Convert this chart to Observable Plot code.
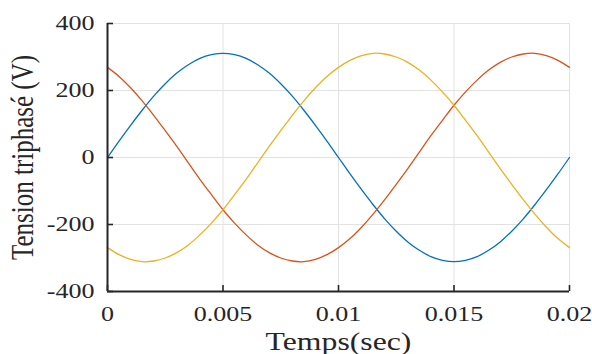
<!DOCTYPE html>
<html>
<head>
<meta charset="utf-8">
<script src="https://cdn.jsdelivr.net/npm/d3@7"></script>
<script src="https://cdn.jsdelivr.net/npm/@observablehq/plot@0.6"></script>
<style>
  html, body { margin: 0; padding: 0; background: #fff; }
</style>
</head>
<body>
<div id="chart"></div>
<script>
// Time samples (s)
const time = [0, 0.0005, 0.001, 0.0015, 0.002, 0.0025, 0.003, 0.0035, 0.004, 0.0045,
  0.005, 0.0055, 0.006, 0.0065, 0.007, 0.0075, 0.008, 0.0085, 0.009, 0.0095,
  0.01, 0.0105, 0.011, 0.0115, 0.012, 0.0125, 0.013, 0.0135, 0.014, 0.0145,
  0.015, 0.0155, 0.016, 0.0165, 0.017, 0.0175, 0.018, 0.0185, 0.019, 0.0195, 0.02];
// Phase voltages (V)
const phaseA = [0, 49, 96, 141, 183, 220, 252, 277, 296, 307, 311, 307, 296, 277, 252, 220, 183, 141, 96, 49,
  0, -49, -96, -141, -183, -220, -252, -277, -296, -307, -311, -307, -296, -277, -252, -220, -183, -141, -96, -49, 0];
const phaseB = [269, 242, 208, 169, 126, 80, 33, -16, -65, -111, -156, -196, -231, -261, -284, -300, -309, -311, -304, -290,
  -269, -242, -208, -169, -126, -80, -33, 16, 65, 111, 156, 196, 231, 261, 284, 300, 309, 311, 304, 290, 269];
const phaseC = [-269, -290, -304, -311, -309, -300, -284, -261, -231, -196, -156, -111, -65, -16, 33, 80, 126, 169, 208, 242,
  269, 290, 304, 311, 309, 300, 284, 261, 231, 196, 156, 111, 65, 16, -33, -80, -126, -169, -208, -242, -269];
const seriesNames = ["A", "B", "C"];
const seriesColors = ["#0072BD", "#D95319", "#EDB120"];

const xTicks = [0, 0.005, 0.01, 0.015, 0.02];
const xTickLabels = ["0", "0.005", "0.01", "0.015", "0.02"];
const yTicks = [-400, -200, 0, 200, 400];
const yTickLabels = ["-400", "-200", "0", "200", "400"];
const xLabel = "Temps(sec)";
const yLabel = "Tension triphasé (V)";

const allSeries = [phaseA, phaseB, phaseC];
const rows = allSeries.map((vals, s) => time.map((t, i) => ({t, v: vals[i], s: seriesNames[s]})));

const ink = "#262626";
const grid = "#e2e2e2";
const serif = "'Liberation Serif', 'Times New Roman', Times, serif";

const svg = Plot.plot({
  width: 592,
  height: 354,
  marginLeft: 107,
  marginRight: 23,
  marginTop: 23,
  marginBottom: 63,
  style: {fontFamily: serif, color: ink, background: "#fff"},
  x: {domain: [0, 0.02]},
  y: {domain: [-400, 400]},
  marks: [
    Plot.ruleX(xTicks, {stroke: grid, strokeWidth: 1}),
    Plot.ruleY(yTicks, {stroke: grid, strokeWidth: 1}),
    ...rows.map((r, s) => Plot.line(r, {x: "t", y: "v", stroke: seriesColors[s], strokeWidth: 1.3, curve: "catmull-rom"})),
    Plot.ruleX([0], {stroke: ink, strokeWidth: 2}),
    Plot.ruleY([-400], {stroke: ink, strokeWidth: 2}),
    Plot.ruleY(yTicks, {x1: 0, x2: 0.00026, stroke: ink, strokeWidth: 1.6}),
    Plot.ruleX(xTicks, {y1: -400, y2: -382, stroke: ink, strokeWidth: 1.6}),
    Plot.axisY(yTicks, {tickSize: 0, tickPadding: 13, fontSize: 20.5, fontFamily: serif, fill: ink, label: null,
      tickFormat: (d) => yTickLabels[yTicks.indexOf(d)]}),
    Plot.axisX(xTicks, {tickSize: 0, tickPadding: 15, fontSize: 20.5, fontFamily: serif, fill: ink, label: null,
      tickFormat: (d) => xTickLabels[xTicks.indexOf(d)]}),
    Plot.text([xLabel], {frameAnchor: "bottom", textAnchor: "middle", lineAnchor: "middle", dy: 50,
      fontSize: 25, fontFamily: serif, fill: ink}),
    Plot.text([yLabel], {frameAnchor: "left", textAnchor: "middle", lineAnchor: "middle", rotate: -90, dx: -85,
      fontSize: 25, fontFamily: serif, fill: ink})
  ]
});

// The reference image is horizontally stretched: widen the glyphs accordingly.
const stretch = 1.27;
svg.querySelectorAll("text").forEach((t) => {
  t.setAttribute("font-family", serif);
  const tr = t.getAttribute("transform") || "";
  const rotated = /rotate/.test(tr);
  t.setAttribute("transform", tr + (rotated ? ` scale(1,${stretch})` : ` scale(${stretch},1)`));
});

document.getElementById("chart").appendChild(svg);
</script>
</body>
</html>
